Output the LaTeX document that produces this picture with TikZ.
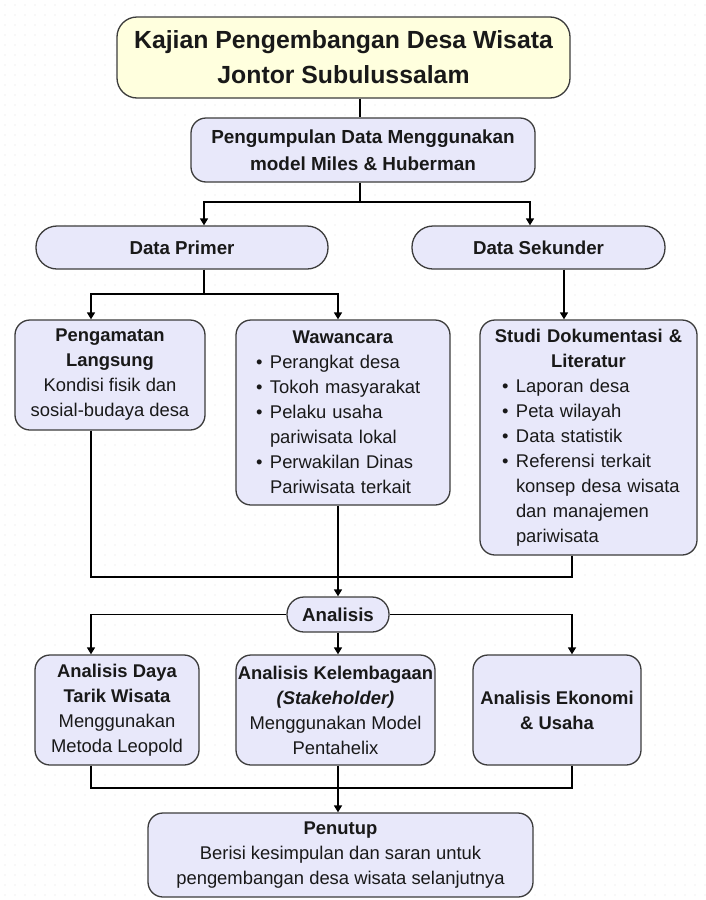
\documentclass[tikz,border=0pt]{standalone}
\usepackage{fontspec}
\setmainfont{Liberation Sans}
\usetikzlibrary{arrows.meta}
\definecolor{lav}{RGB}{232,232,250}
\definecolor{ttl}{RGB}{255,255,222}
\definecolor{edgec}{RGB}{60,60,60}
\definecolor{ink}{RGB}{25,25,25}
\newcommand{\bul}{\makebox[14pt][l]{\textbullet}}
\newcommand{\ind}{\hspace*{14pt}}
\begin{document}
\begin{tikzpicture}[x=1pt,y=-1pt,
  box/.style={draw=edgec, line width=1.3pt, fill=lav, rounded corners=15pt, inner sep=0pt,
    align=center, text=ink, font=\fontsize{18.4}{25}\selectfont},
  pill/.style={box, rounded corners=21pt, font=\fontsize{18.7}{25}\selectfont\bfseries},
  conn/.style={line width=1.6pt, black},
  arr/.style={conn, -{Triangle[length=7pt,width=8pt]}}]

\useasboundingbox[fill=white] (0,0) rectangle (706,900);
\foreach \i in {5,15,...,705} \foreach \j in {5,15,...,895} \fill[black!11] (\i,\j) circle (0.7pt);

% nodes
\node[box, fill=ttl, rounded corners=20pt, minimum width=453pt, minimum height=81pt,
  font=\fontsize{24.8}{35}\selectfont\bfseries] (title) at (343.5,57.5)
  {Kajian Pengembangan Desa Wisata\\Jontor Subulussalam};
\node[box, minimum width=344pt, minimum height=64pt, font=\fontsize{18.9}{27}\selectfont\bfseries]
  (pg) at (363,150) {Pengumpulan Data Menggunakan\\model Miles \& Huberman};
\node[pill, minimum width=292pt, minimum height=43pt] (dp) at (182,247.5) {Data Primer};
\node[pill, minimum width=253pt, minimum height=43pt] (ds) at (538.5,247.5) {Data Sekunder};

\node[box, minimum width=190pt, minimum height=110pt] (pl) at (110,375)
  {\textbf{Pengamatan}\\\textbf{Langsung}\\Kondisi fisik dan\\sosial-budaya desa};
\node[box, minimum width=214pt, minimum height=185pt, text width=176pt, align=left] (ww) at (343,412.5)
  {\makebox[176pt][c]{\textbf{Wawancara}}\\\hspace*{1pt}\bul Perangkat desa\\\hspace*{1pt}\bul Tokoh masyarakat\\\hspace*{1pt}\bul Pelaku usaha\\\hspace*{1pt}\ind pariwisata lokal\\\hspace*{1pt}\bul Perwakilan Dinas\\\hspace*{1pt}\ind Pariwisata terkait};
\node[box, minimum width=217pt, minimum height=235pt, text width=185pt, align=left] (sd) at (588.5,437.5)
  {\makebox[185pt][c]{\textbf{Studi Dokumentasi \&}}\\\makebox[185pt][c]{\textbf{Literatur}}\\\hspace*{6pt}\bul Laporan desa\\\hspace*{6pt}\bul Peta wilayah\\\hspace*{6pt}\bul Data statistik\\\hspace*{6pt}\bul Referensi terkait\\\hspace*{6pt}\ind konsep desa wisata\\\hspace*{6pt}\ind dan manajemen\\\hspace*{6pt}\ind pariwisata};

\node[pill, rounded corners=17pt, minimum width=102pt, minimum height=35pt] (an) at (338,614.5) {Analisis};

\node[box, minimum width=164pt, minimum height=110pt] (ad) at (117,710)
  {\textbf{Analisis Daya}\\\textbf{Tarik Wisata}\\Menggunakan\\Metoda Leopold};
\node[box, minimum width=199pt, minimum height=110pt] (ak) at (335.5,710)
  {\textbf{Analisis Kelembagaan}\\\textbf{\textit{(Stakeholder)}}\\Menggunakan Model\\Pentahelix};
\node[box, minimum width=168pt, minimum height=110pt] (ae) at (557,710)
  {\textbf{Analisis Ekonomi}\\\textbf{\& Usaha}};
\node[box, minimum width=385pt, minimum height=84pt] (pt) at (340.5,855)
  {\textbf{Penutup}\\Berisi kesimpulan dan saran untuk\\pengembangan desa wisata selanjutnya};

% helper coordinates
\coordinate (vA) at (360,0);
\coordinate (jA) at (0,202);
\coordinate (xdp) at (204,0);
\coordinate (xds) at (530,0);
\coordinate (jB) at (0,294);
\coordinate (xpl) at (91,0);
\coordinate (xww) at (338,0);
\coordinate (xsd) at (564,0);
\coordinate (xr) at (572,0);
\coordinate (jC) at (0,577);
\coordinate (jD) at (0,788);

% connectors
\draw[conn] (title.south -| vA) -- (pg.north -| vA);
\draw[conn] (pg.south -| vA) -- (jA -| vA);
\draw[arr] (jA -| vA) -| (dp.north -| xdp);
\draw[arr] (jA -| vA) -| (ds.north -| xds);
\draw[conn] (dp.south -| xdp) -- (jB -| xdp);
\draw[arr] (jB -| xdp) -| (pl.north -| xpl);
\draw[arr] (jB -| xdp) -| (ww.north -| xww);
\draw[arr] (ds.south -| xsd) -- (sd.north -| xsd);
\draw[conn] (pl.south -| xpl) |- (jC -| xww);
\draw[conn] (sd.south -| xr) |- (jC -| xww);
\draw[arr] (ww.south -| xww) -- (an.north -| xww);
\draw[arr] (an.west) -| (ad.north -| xpl);
\draw[arr] (an.east) -| (ae.north -| xr);
\draw[arr] (an.south) -- (ak.north -| an.south);
\draw[conn] (ad.south -| xpl) |- (jD -| xww);
\draw[conn] (ae.south -| xr) |- (jD -| xww);
\draw[arr] (ak.south -| xww) -- (pt.north -| xww);
\end{tikzpicture}
\end{document}
